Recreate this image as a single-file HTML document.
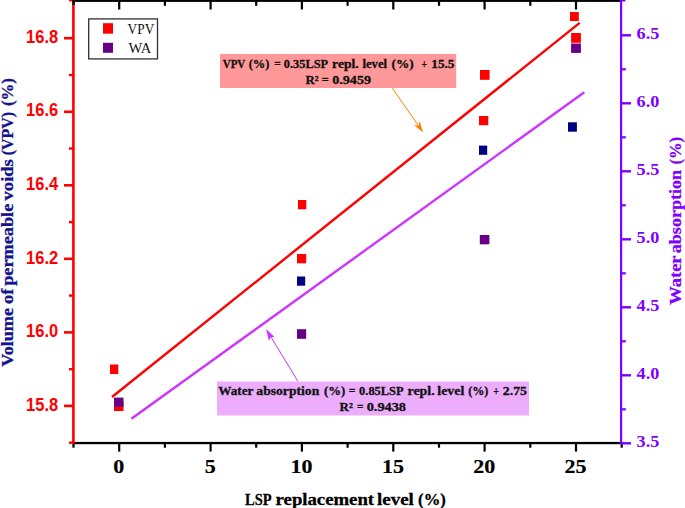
<!DOCTYPE html>
<html>
<head>
<meta charset="utf-8">
<title>VPV and water absorption vs LSP replacement level</title>
<style>
html,body{margin:0;padding:0;background:#fff;overflow:hidden;}
svg{display:block;}
.ser{font-family:"Liberation Serif",serif;}
.san{font-family:"Liberation Sans",sans-serif;}
</style>
</head>
<body>
<svg width="685" height="508" viewBox="0 0 685 508">
<rect x="0" y="0" width="685" height="508" fill="#ffffff"/>

<!-- annotation boxes -->
<rect x="220" y="54" width="236.2" height="34" fill="#ff9999"/>
<rect x="217" y="381.5" width="312" height="34" fill="#ebadfc"/>
<!-- fitted lines -->
<line x1="112" y1="397" x2="579.7" y2="22.9" stroke="#ff0000" stroke-width="2.4"/>
<line x1="131.4" y1="418.8" x2="584.3" y2="92.3" stroke="#cc33ff" stroke-width="2.4"/>
<!-- arrows -->
<line x1="392.4" y1="88.2" x2="418" y2="125" stroke="#ff8000" stroke-width="1"/>
<polygon points="423.1,132.6 413.8,124.7 418.4,125.8 419.7,120.9" fill="#ff8000"/>
<line x1="297.9" y1="381.3" x2="271" y2="337" stroke="#cc33ff" stroke-width="1"/>
<polygon points="266.1,329.1 268.9,340.8 270.9,337 274.6,337" fill="#cc33ff"/>
<!-- data points -->
<g>
<g fill="#ff0000">
<rect x="110" y="364.5" width="8.3" height="9.5"/>
<rect x="114" y="401.5" width="9.5" height="9.5"/>
<rect x="298" y="200" width="8.3" height="9.3"/>
<rect x="297" y="254" width="9.2" height="9.3"/>
<rect x="480" y="70" width="9.6" height="9.8"/>
<rect x="479" y="116" width="9.3" height="9.2"/>
<rect x="570" y="12" width="8.8" height="9"/>
<rect x="571.1" y="33" width="9.8" height="9.8"/>
</g>
<g fill="#660087">
<rect x="114" y="397.6" width="9.5" height="9.3"/>
<rect x="297" y="329.2" width="9.2" height="9.6"/>
<rect x="479.8" y="235" width="9.6" height="9.3"/>
<rect x="571.1" y="43.5" width="9.8" height="9.4"/>
</g>
<g fill="#000080">
<rect x="297" y="276.5" width="8.2" height="9.2"/>
<rect x="479" y="145.6" width="8.2" height="9.2"/>
<rect x="568" y="122.3" width="8.9" height="9.4"/>
</g>
</g>
<!-- axes -->
<g>
<rect x="74.6" y="0" width="546" height="1.9" fill="#000"/>
<rect x="73" y="441.9" width="549" height="2.3" fill="#000"/>
<g fill="#000">
<rect x="118.1" y="442" width="2.2" height="9.6"/>
<rect x="118.1" y="0" width="2.2" height="9.5"/>
<rect x="209.5" y="442" width="2.2" height="9.6"/>
<rect x="209.5" y="0" width="2.2" height="9.5"/>
<rect x="300.8" y="442" width="2.2" height="9.6"/>
<rect x="300.8" y="0" width="2.2" height="9.5"/>
<rect x="392.2" y="442" width="2.2" height="9.6"/>
<rect x="392.2" y="0" width="2.2" height="9.5"/>
<rect x="483.5" y="442" width="2.2" height="9.6"/>
<rect x="483.5" y="0" width="2.2" height="9.5"/>
<rect x="574.9" y="442" width="2.2" height="9.6"/>
<rect x="574.9" y="0" width="2.2" height="9.5"/>
<rect x="72.4" y="442" width="2.2" height="5.7"/>
<rect x="163.8" y="442" width="2.2" height="5.7"/>
<rect x="163.8" y="0" width="2.2" height="5.8"/>
<rect x="255.1" y="442" width="2.2" height="5.7"/>
<rect x="255.1" y="0" width="2.2" height="5.8"/>
<rect x="346.5" y="442" width="2.2" height="5.7"/>
<rect x="346.5" y="0" width="2.2" height="5.8"/>
<rect x="437.9" y="442" width="2.2" height="5.7"/>
<rect x="437.9" y="0" width="2.2" height="5.8"/>
<rect x="529.2" y="442" width="2.2" height="5.7"/>
<rect x="529.2" y="0" width="2.2" height="5.8"/>
<rect x="620.6" y="442" width="2.2" height="5.7"/>
</g>
<g fill="#ff0000">
<rect x="72.1" y="0" width="2.6" height="444.2"/>
<rect x="64" y="36.9" width="9" height="2.6"/>
<rect x="64" y="110.5" width="9" height="2.6"/>
<rect x="64" y="184.0" width="9" height="2.6"/>
<rect x="64" y="257.5" width="9" height="2.6"/>
<rect x="64" y="331.1" width="9" height="2.6"/>
<rect x="64" y="404.6" width="9" height="2.6"/>
<rect x="69" y="0" width="4" height="1.4"/>
<rect x="69" y="73.8" width="4" height="2.4"/>
<rect x="69" y="147.3" width="4" height="2.4"/>
<rect x="69" y="220.9" width="4" height="2.4"/>
<rect x="69" y="294.4" width="4" height="2.4"/>
<rect x="69" y="368.0" width="4" height="2.4"/>
<rect x="69" y="441.5" width="4" height="2.4"/>
</g>
<g fill="#7f00ff">
<rect x="620" y="0" width="2.2" height="444.4"/>
<rect x="621" y="34.1" width="10" height="2.4"/>
<rect x="621" y="102.1" width="10" height="2.4"/>
<rect x="621" y="170.1" width="10" height="2.4"/>
<rect x="621" y="238.1" width="10" height="2.4"/>
<rect x="621" y="306.1" width="10" height="2.4"/>
<rect x="621" y="374.1" width="10" height="2.4"/>
<rect x="621" y="442.1" width="10" height="2.4"/>
<rect x="621" y="0" width="4.4" height="1.5"/>
<rect x="621" y="68.2" width="4.8" height="2.2"/>
<rect x="621" y="136.2" width="4.8" height="2.2"/>
<rect x="621" y="204.2" width="4.8" height="2.2"/>
<rect x="621" y="272.2" width="4.8" height="2.2"/>
<rect x="621" y="340.2" width="4.8" height="2.2"/>
<rect x="621" y="408.2" width="4.8" height="2.2"/>
</g>
<rect x="72.4" y="0" width="2.3" height="5" fill="#000"/>
</g>
<!-- left tick labels -->
<g class="san" font-size="17.5" font-weight="bold" fill="#ff0000">
<text x="26.1" y="42.6" textLength="32" lengthAdjust="spacingAndGlyphs">16.8</text>
<text x="26.1" y="116.3" textLength="32" lengthAdjust="spacingAndGlyphs">16.6</text>
<text x="26.1" y="190.0" textLength="32" lengthAdjust="spacingAndGlyphs">16.4</text>
<text x="26.1" y="263.6" textLength="32" lengthAdjust="spacingAndGlyphs">16.2</text>
<text x="26.1" y="337.3" textLength="32" lengthAdjust="spacingAndGlyphs">16.0</text>
<text x="26.1" y="411.0" textLength="32" lengthAdjust="spacingAndGlyphs">15.8</text>
</g>
<!-- right tick labels -->
<g class="ser" font-size="17.6" font-weight="bold" fill="#7f00ff">
<text x="636.6" y="39.0" textLength="22.8" lengthAdjust="spacingAndGlyphs">6.5</text>
<text x="636.6" y="107.0" textLength="22.8" lengthAdjust="spacingAndGlyphs">6.0</text>
<text x="636.6" y="175.0" textLength="22.8" lengthAdjust="spacingAndGlyphs">5.5</text>
<text x="636.6" y="243.0" textLength="22.8" lengthAdjust="spacingAndGlyphs">5.0</text>
<text x="636.6" y="311.0" textLength="22.8" lengthAdjust="spacingAndGlyphs">4.5</text>
<text x="636.6" y="379.0" textLength="22.8" lengthAdjust="spacingAndGlyphs">4.0</text>
<text x="636.6" y="447.0" textLength="22.8" lengthAdjust="spacingAndGlyphs">3.5</text>
</g>
<!-- bottom tick labels -->
<g class="ser" font-size="19.5" font-weight="bold" fill="#000" stroke="#000" stroke-width="0.2">
<text x="113.3" y="473.2" textLength="11.0" lengthAdjust="spacingAndGlyphs">0</text>
<text x="204.7" y="473.2" textLength="11.0" lengthAdjust="spacingAndGlyphs">5</text>
<text x="290.5" y="473.2" textLength="22.0" lengthAdjust="spacingAndGlyphs">10</text>
<text x="381.9" y="473.2" textLength="22.0" lengthAdjust="spacingAndGlyphs">15</text>
<text x="473.2" y="473.2" textLength="22.0" lengthAdjust="spacingAndGlyphs">20</text>
<text x="564.6" y="473.2" textLength="22.0" lengthAdjust="spacingAndGlyphs">25</text>
</g>
<!-- axis titles -->
<g class="ser" font-size="16.9" font-weight="bold" fill="#000" stroke="#000" stroke-width="0.3">
<text x="245.0" y="504.7" textLength="26.5" lengthAdjust="spacingAndGlyphs">LSP</text>
<text x="275.6" y="504.7" textLength="98.5" lengthAdjust="spacingAndGlyphs">replacement</text>
<text x="377.0" y="504.7" textLength="36.8" lengthAdjust="spacingAndGlyphs">level</text>
<text x="418.1" y="504.7" textLength="27.7" lengthAdjust="spacingAndGlyphs">(%)</text>
</g>
<g class="ser" font-size="16.8" font-weight="bold" fill="#14148c" stroke="#14148c" stroke-width="0.3">
<text transform="translate(13.2,366.7) rotate(-90)" textLength="58.7" lengthAdjust="spacingAndGlyphs">Volume</text>
<text transform="translate(13.2,304.0) rotate(-90)" textLength="15.5" lengthAdjust="spacingAndGlyphs">of</text>
<text transform="translate(13.2,285.8) rotate(-90)" textLength="82.1" lengthAdjust="spacingAndGlyphs">permeable</text>
<text transform="translate(13.2,200.4) rotate(-90)" textLength="41.2" lengthAdjust="spacingAndGlyphs">voids</text>
<text transform="translate(13.2,155.2) rotate(-90)" textLength="43.2" lengthAdjust="spacingAndGlyphs">(VPV)</text>
<text transform="translate(13.2,106.1) rotate(-90)" textLength="28.1" lengthAdjust="spacingAndGlyphs">(%)</text>
</g>
<g class="ser" font-size="16.8" font-weight="bold" fill="#7f00ff" stroke="#7f00ff" stroke-width="0.25">
<text transform="translate(681.4,304.8) rotate(-90)" textLength="49.4" lengthAdjust="spacingAndGlyphs">Water</text>
<text transform="translate(681.4,253.2) rotate(-90)" textLength="83.3" lengthAdjust="spacingAndGlyphs">absorption</text>
<text transform="translate(681.4,164.6) rotate(-90)" textLength="27.7" lengthAdjust="spacingAndGlyphs">(%)</text>
</g>
<!-- legend -->
<rect x="88.7" y="18.9" width="68.8" height="40" fill="#fff" stroke="#303030" stroke-width="1.3"/>
<rect x="103" y="23.2" width="10" height="10.5" fill="#ff0000"/>
<rect x="103" y="42.8" width="10" height="10" fill="#660087"/>
<text class="ser" font-size="15.3" fill="#111" x="127.6" y="33.9" textLength="26.7" lengthAdjust="spacingAndGlyphs">VPV</text>
<text class="ser" font-size="15.3" fill="#111" x="128.5" y="53" textLength="22.7" lengthAdjust="spacingAndGlyphs">WA</text>
<!-- annotation text -->
<g class="ser" font-size="12.2" font-weight="bold" fill="#111" stroke="#111" stroke-width="0.3">
<text x="222.7" y="67.5" textLength="22.6" lengthAdjust="spacingAndGlyphs">VPV</text>
<text x="248.7" y="67.5" textLength="20.7" lengthAdjust="spacingAndGlyphs">(%)</text>
<text x="274.3" y="67.5" textLength="6.5" lengthAdjust="spacingAndGlyphs">=</text>
<text x="283.8" y="67.5" textLength="44.4" lengthAdjust="spacingAndGlyphs">0.35LSP</text>
<text x="332.1" y="67.5" textLength="26.6" lengthAdjust="spacingAndGlyphs">repl.</text>
<text x="362.4" y="67.5" textLength="24.7" lengthAdjust="spacingAndGlyphs">level</text>
<text x="391.5" y="67.5" textLength="22.2" lengthAdjust="spacingAndGlyphs">(%)</text>
<text x="421.5" y="67.5" textLength="5.5" lengthAdjust="spacingAndGlyphs">+</text>
<text x="431.3" y="67.5" textLength="23.2" lengthAdjust="spacingAndGlyphs">15.5</text>
<text x="305.6" y="83.6" textLength="13.1" lengthAdjust="spacingAndGlyphs">R²</text>
<text x="321.8" y="83.6" textLength="7.0" lengthAdjust="spacingAndGlyphs">=</text>
<text x="332.2" y="83.6" textLength="38.8" lengthAdjust="spacingAndGlyphs">0.9459</text>
</g>
<g class="ser" font-size="12.2" font-weight="bold" fill="#111" stroke="#111" stroke-width="0.3">
<text x="218.3" y="394.9" textLength="35.2" lengthAdjust="spacingAndGlyphs">Water</text>
<text x="256.3" y="394.9" textLength="63.0" lengthAdjust="spacingAndGlyphs">absorption</text>
<text x="324.0" y="394.9" textLength="21.3" lengthAdjust="spacingAndGlyphs">(%)</text>
<text x="348.7" y="394.9" textLength="6.7" lengthAdjust="spacingAndGlyphs">=</text>
<text x="359.1" y="394.9" textLength="44.5" lengthAdjust="spacingAndGlyphs">0.85LSP</text>
<text x="407.5" y="394.9" textLength="27.2" lengthAdjust="spacingAndGlyphs">repl.</text>
<text x="437.3" y="394.9" textLength="27.0" lengthAdjust="spacingAndGlyphs">level</text>
<text x="468.2" y="394.9" textLength="20.2" lengthAdjust="spacingAndGlyphs">(%)</text>
<text x="493.3" y="394.9" textLength="5.7" lengthAdjust="spacingAndGlyphs">+</text>
<text x="502.8" y="394.9" textLength="24.1" lengthAdjust="spacingAndGlyphs">2.75</text>
<text x="339.6" y="411.1" textLength="13.3" lengthAdjust="spacingAndGlyphs">R²</text>
<text x="356.9" y="411.1" textLength="6.4" lengthAdjust="spacingAndGlyphs">=</text>
<text x="366.7" y="411.1" textLength="39.3" lengthAdjust="spacingAndGlyphs">0.9438</text>
</g>
</svg>
</body>
</html>
